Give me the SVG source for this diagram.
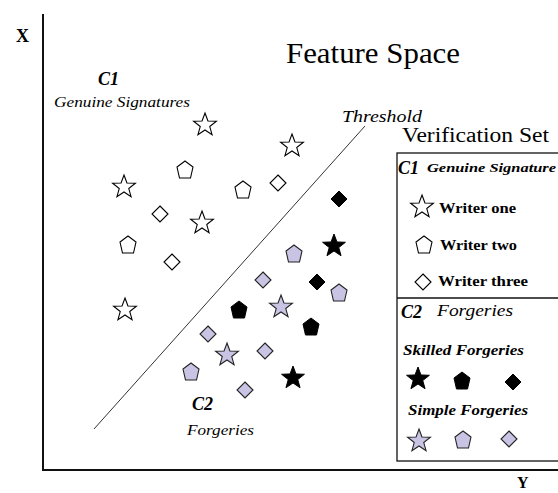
<svg xmlns="http://www.w3.org/2000/svg" width="558" height="493" viewBox="0 0 558 493">
<style>
text{font-family:"Liberation Serif","Times New Roman",serif;fill:#000}
.b{font-weight:bold}
.i{font-style:italic}
.g{fill:#fff;stroke:#000;stroke-width:1.1}
.k{fill:#000;stroke:#000;stroke-width:1}
.l{fill:#cac4e4;stroke:#222;stroke-width:1.1}
.ax{stroke:#111;stroke-width:2;fill:none}
</style>
<defs>
<path id="star" d="M0,-12 L2.94,-4.05 L11.41,-3.71 L4.76,1.55 L7.05,9.71 L0,5 L-7.05,9.71 L-4.76,1.55 L-11.41,-3.71 L-2.94,-4.05 Z"/>
<path id="pent" d="M0,-9 L8,-3 L5.5,8 L-5.5,8 L-8,-3 Z"/>
<path id="dia" d="M0,-8 L8,0 L0,8 L-8,0 Z"/>
</defs>
<g id="axes">
<line class="ax" x1="43" y1="14" x2="43" y2="471"/>
<line class="ax" x1="42" y1="470" x2="558" y2="470"/>
</g>
<g id="connectors">
<line x1="94" y1="429" x2="365" y2="126" stroke="#333" stroke-width="1"/>
</g>
<g id="labels">
<text class="b" x="16" y="42" font-size="18">X</text>
<text class="b" x="517" y="488" font-size="16">Y</text>
<text x="286" y="63" font-size="29" textLength="174" lengthAdjust="spacingAndGlyphs">Feature Space</text>
<text class="b i" x="98" y="85" font-size="18">C1</text>
<text class="i" x="54" y="107" font-size="15" textLength="136" lengthAdjust="spacingAndGlyphs">Genuine Signatures</text>
<text class="i" x="342" y="122" font-size="17" textLength="80" lengthAdjust="spacingAndGlyphs">Threshold</text>
<text class="b i" x="192" y="410" font-size="18">C2</text>
<text class="i" x="187" y="435" font-size="15" textLength="67" lengthAdjust="spacingAndGlyphs">Forgeries</text>
</g>
<g id="genuine">
<use href="#star" class="g" x="205" y="125"/>
<use href="#star" class="g" x="292" y="146"/>
<use href="#star" class="g" x="124" y="187"/>
<use href="#star" class="g" x="202" y="223"/>
<use href="#star" class="g" x="125" y="310"/>
<use href="#pent" class="g" x="185" y="170"/>
<use href="#pent" class="g" x="243" y="190"/>
<use href="#pent" class="g" x="128" y="245"/>
<use href="#dia" class="g" x="278" y="183"/>
<use href="#dia" class="g" x="160" y="214"/>
<use href="#dia" class="g" x="172" y="262"/>
</g>
<g id="forgeries">
<use href="#dia" class="k" x="339" y="199"/>
<use href="#star" class="k" x="334" y="246"/>
<use href="#pent" class="l" x="294" y="254"/>
<use href="#dia" class="l" x="263" y="280"/>
<use href="#dia" class="k" x="317" y="282"/>
<use href="#pent" class="l" x="339" y="293"/>
<use href="#pent" class="k" x="239" y="310"/>
<use href="#star" class="l" x="281" y="307"/>
<use href="#pent" class="k" x="311" y="327"/>
<use href="#dia" class="l" x="208" y="334"/>
<use href="#star" class="l" x="227" y="355"/>
<use href="#dia" class="l" x="265" y="351"/>
<use href="#pent" class="l" x="191" y="372"/>
<use href="#star" class="k" x="293" y="378"/>
<use href="#dia" class="l" x="245" y="390"/>
</g>
<g id="legend">
<text x="402" y="142" font-size="20" textLength="147" lengthAdjust="spacingAndGlyphs">Verification Set</text>
<rect x="397" y="153" width="170" height="308" fill="none" stroke="#111" stroke-width="1.3"/>
<line x1="397" y1="298" x2="558" y2="298" stroke="#111" stroke-width="1.3"/>
<text class="b i" x="398" y="174" font-size="18">C1</text>
<text class="b i" x="427" y="172" font-size="13" textLength="129" lengthAdjust="spacingAndGlyphs">Genuine Signature</text>
<use href="#star" class="g" x="422" y="207"/>
<text class="b" x="439" y="213" font-size="14" textLength="77" lengthAdjust="spacingAndGlyphs">Writer one</text>
<use href="#pent" class="g" x="424" y="245"/>
<text class="b" x="440" y="250" font-size="14" textLength="77" lengthAdjust="spacingAndGlyphs">Writer two</text>
<use href="#dia" class="g" x="423" y="282"/>
<text class="b" x="438" y="286" font-size="14" textLength="90" lengthAdjust="spacingAndGlyphs">Writer three</text>
<text class="b i" x="401" y="318" font-size="18">C2</text>
<text class="i" x="437" y="316" font-size="17" textLength="76" lengthAdjust="spacingAndGlyphs">Forgeries</text>
<text class="b i" x="403" y="355" font-size="14" textLength="121" lengthAdjust="spacingAndGlyphs">Skilled Forgeries</text>
<use href="#star" class="k" x="418" y="379"/>
<use href="#pent" class="k" x="462" y="381"/>
<use href="#dia" class="k" x="513" y="382"/>
<text class="b i" x="408" y="415" font-size="14" textLength="120" lengthAdjust="spacingAndGlyphs">Simple Forgeries</text>
<use href="#star" class="l" x="419" y="441"/>
<use href="#pent" class="l" x="463" y="440"/>
<use href="#dia" class="l" x="509" y="439"/>
</g>
</svg>
